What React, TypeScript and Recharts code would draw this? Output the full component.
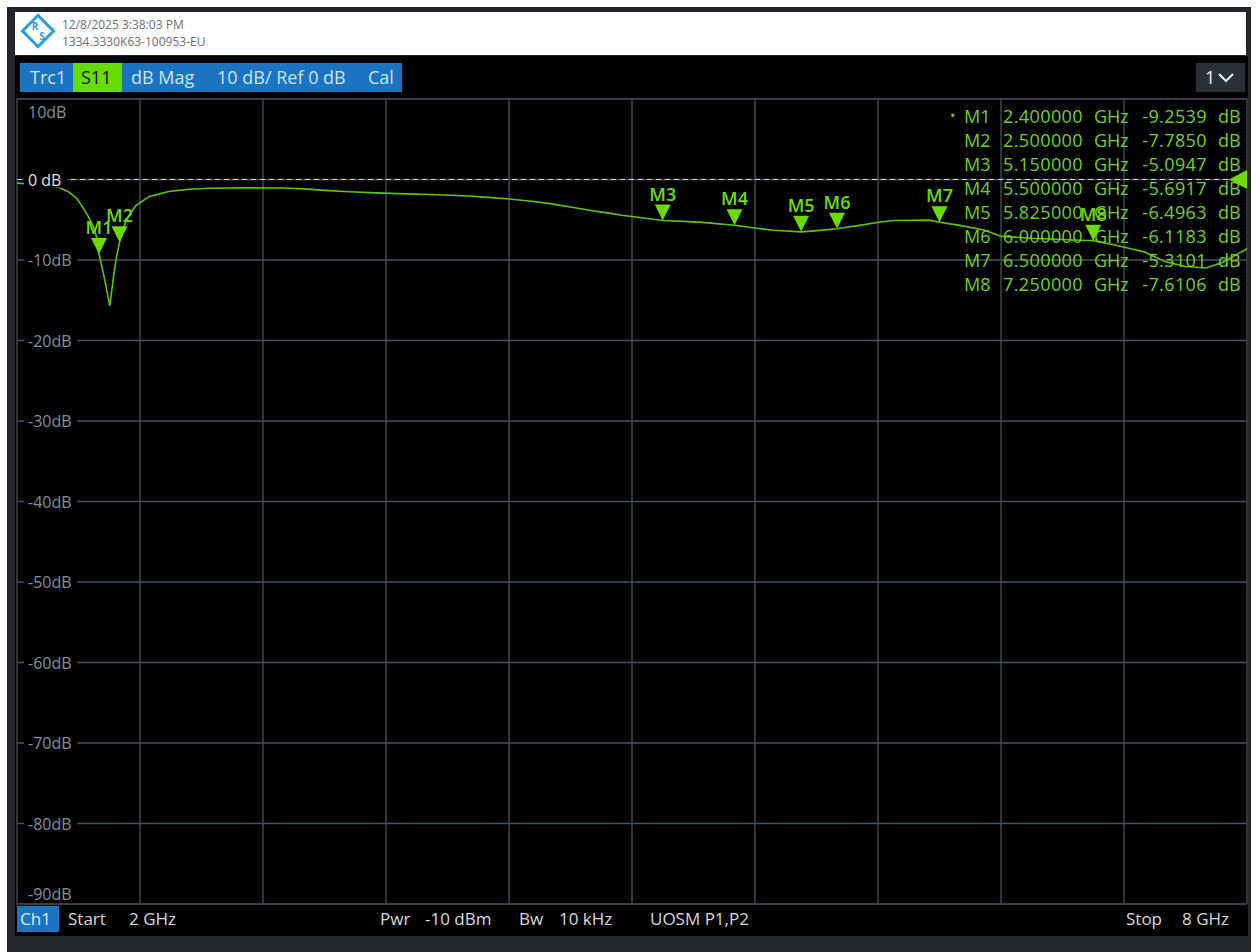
import React from 'react';
import {
  ComposedChart,
  Line,
  Scatter,
  XAxis,
  YAxis,
  CartesianGrid,
  ReferenceLine,
  ReferenceDot,
} from 'recharts';

// ---- Data ----
const traceFreqs = [
  2.0, 2.06, 2.12, 2.2, 2.25, 2.29, 2.32, 2.35, 2.375, 2.39, 2.4, 2.425, 2.453, 2.466, 2.482,
  2.5, 2.523, 2.55, 2.58, 2.645, 2.74, 2.84, 2.94, 3.1, 3.3, 3.42, 3.52, 3.62, 3.75, 3.9, 4.05,
  4.2, 4.3, 4.4, 4.5, 4.6, 4.7, 4.8, 4.88, 4.95, 5.0, 5.15, 5.33, 5.5, 5.59, 5.69, 5.825, 5.89,
  6.0, 6.11, 6.21, 6.28, 6.45, 6.5, 6.6, 6.72, 6.8, 6.95, 7.1, 7.25, 7.35, 7.5, 7.6, 7.7, 7.8,
  7.88, 7.95, 8.0,
];
const traceDb = [
  -0.45, -0.55, -0.65, -0.95, -1.5, -2.3, -3.4, -4.7, -6.0, -7.3, -9.25, -12.1, -15.7, -13.0,
  -10.1, -7.785, -5.7, -4.3, -3.25, -2.1, -1.5, -1.22, -1.08, -1.04, -1.05, -1.2, -1.38, -1.53,
  -1.66, -1.78, -1.9, -2.05, -2.22, -2.42, -2.67, -3.0, -3.42, -3.85, -4.15, -4.45, -4.6, -5.09,
  -5.3, -5.69, -6.0, -6.3, -6.5, -6.38, -6.12, -5.7, -5.28, -5.1, -5.05, -5.31, -5.7, -6.3,
  -7.05, -7.3, -7.45, -7.61, -8.1, -9.0, -10.2, -10.8, -11.0, -10.3, -9.3, -8.6,
];

const markerNames = ['M1', 'M2', 'M3', 'M4', 'M5', 'M6', 'M7', 'M8'];
const markerFreqs = [2.4, 2.5, 5.15, 5.5, 5.825, 6.0, 6.5, 7.25];
const markerValues = [-9.2539, -7.785, -5.0947, -5.6917, -6.4963, -6.1183, -5.3101, -7.6106];

const xTicks = [2, 2.6, 3.2, 3.8, 4.4, 5, 5.6, 6.2, 6.8, 7.4, 8];
const yTicks = [10, 0, -10, -20, -30, -40, -50, -60, -70, -80, -90];

const startLabel = '2 GHz';
const stopLabel = '8 GHz';

const traceData = traceFreqs.map((f, i) => ({ f, db: traceDb[i] }));
const markerData = markerFreqs.map((f, i) => ({ f, db: markerValues[i], name: markerNames[i] }));

// ---- Styles ----
const FONT = '"Open Sans", "Noto Sans", sans-serif';
const TRACE = '#5ec400';
const MARK = '#6cdc00';
const TEXTGREEN = '#70d21c';
const GRID = '#46525c';
const BLUE = '#1a74c2';

function estWidth(s: string, fs: number) {
  let w = 0;
  for (const c of s) {
    if (c === '-') w += 0.32;
    else if (c === ' ') w += 0.26;
    else if (c === 'B') w += 0.63;
    else if (c === 'd') w += 0.61;
    else w += 0.572;
  }
  return w * fs;
}

const YTick = (props: any) => {
  const { y, payload } = props;
  const v = payload.value;
  const label = v === 0 ? '0 dB' : `${v}dB`;
  const edge = v === 10 || v === -90;
  let ty = y;
  if (v === 10) ty = y + 13;
  if (v === -90) ty = y - 10;
  const color = v === 0 ? '#e4e2dc' : '#80909c';
  const w = estWidth(label, 16);
  return (
    <g>
      {!edge && <rect x={8} y={ty - 8} width={w + 10} height={16} fill="#000" />}
      <text
        x={12}
        y={ty}
        dominantBaseline="central"
        fill={color}
        fontSize={16}
        fontFamily={FONT}
      >
        {label}
      </text>
    </g>
  );
};

const MarkerShape = (props: any) => {
  const { cx, cy, payload } = props;
  if (cx == null || cy == null) return null;
  return (
    <g>
      <polygon points={`${cx - 8},${cy - 16} ${cx + 8},${cy - 16} ${cx},${cy}`} fill={MARK} />
      <text
        x={cx}
        y={cy - 20}
        textAnchor="middle"
        fill={MARK}
        fontSize={18}
        fontWeight={600}
        fontFamily={FONT}
      >
        {payload.name}
      </text>
    </g>
  );
};

const RefShape = (props: any) => {
  const { cx, cy } = props;
  if (cx == null || cy == null) return null;
  return <polygon points={`${cx - 18},${cy} ${cx},${cy - 9.5} ${cx},${cy + 9.5}`} fill={MARK} />;
};

const abs = (l: number, t: number, extra: any = {}) => ({
  position: 'absolute' as const,
  left: l,
  top: t,
  ...extra,
});

export default function App() {
  const rowTop = (i: number) => 115.8 + 24 * i - 12;
  return (
    <div
      style={{
        position: 'absolute',
        left: 0,
        top: 0,
        width: 1258,
        height: 952,
        background: '#ffffff',
        overflow: 'hidden',
        fontFamily: FONT,
      }}
    >
      {/* outer frame */}
      <div style={abs(7, 7, { width: 1244, height: 945, background: '#22262a' })} />
      {/* header */}
      <div style={abs(15, 12, { width: 1231, height: 43, background: '#ffffff' })} />
      <svg style={abs(20, 13)} width={36} height={38}>
        <g transform="translate(18,18)">
          <rect x={-11} y={-11} width={22} height={22} transform="rotate(45)" fill="none" stroke="#2b9fdc" strokeWidth={3} />
          <text x={-3} y={-1} textAnchor="middle" fontSize={10} fill="#2b9fdc" fontFamily={FONT} fontWeight={700}>R</text>
          <text x={4} y={9} textAnchor="middle" fontSize={10} fill="#2b9fdc" fontFamily={FONT} fontWeight={700}>S</text>
        </g>
      </svg>
      <div style={abs(62, 17, { fontSize: 12, color: '#707070', lineHeight: '16px', whiteSpace: 'nowrap' })}>
        12/8/2025 3:38:03 PM
      </div>
      <div style={abs(62, 34, { fontSize: 12, color: '#707070', lineHeight: '16px', whiteSpace: 'nowrap' })}>
        1334.3330K63-100953-EU
      </div>
      {/* inner black area */}
      <div style={abs(15, 56, { width: 1233, height: 880, background: '#000' })} />
      {/* tab bar */}
      <div style={abs(20, 63, { width: 382, height: 29, background: BLUE })} />
      <div style={abs(73, 63, { width: 49, height: 29, background: '#66dd00' })} />
      {[
        { t: 'Trc1', x: 30, c: '#cfe2f3' },
        { t: 'S11', x: 81, c: '#101010' },
        { t: 'dB Mag', x: 131, c: '#cfe2f3' },
        { t: '10 dB/ Ref 0 dB', x: 217, c: '#cfe2f3' },
        { t: 'Cal', x: 368, c: '#cfe2f3' },
      ].map((s) => (
        <div key={s.t} style={abs(s.x, 63, { fontSize: 18, lineHeight: '29px', color: s.c, whiteSpace: 'nowrap' })}>
          {s.t}
        </div>
      ))}
      {/* channel selector */}
      <div style={abs(1196, 63, { width: 49, height: 29, background: '#2a3138' })} />
      <div style={abs(1205, 63, { fontSize: 18, lineHeight: '29px', color: '#e8eef4' })}>1</div>
      <svg style={abs(1216, 70)} width={24} height={16}>
        <polyline points="3,4 10,11 17,4" fill="none" stroke="#e8eef4" strokeWidth={2.2} />
      </svg>

      {/* chart */}
      <div style={abs(16, 98, { width: 1232, height: 807 })}>
        <ComposedChart
          width={1232}
          height={807}
          data={traceData}
          margin={{ top: 1, right: 1, bottom: 1, left: 1 }}
        >
          <CartesianGrid stroke={GRID} strokeWidth={1.3} />
          <ReferenceLine y={0} stroke="#d8d8d8" strokeDasharray="5 4" strokeWidth={1.2} />
          <XAxis
            dataKey="f"
            type="number"
            domain={[2, 8]}
            ticks={xTicks}
            hide
            allowDataOverflow
          />
          <YAxis
            type="number"
            domain={[-90, 10]}
            ticks={yTicks}
            interval={0}
            mirror
            axisLine={false}
            tickLine={false}
            tick={<YTick />}
            allowDataOverflow
          />
          <Line
            dataKey="db"
            type="linear"
            stroke={TRACE}
            strokeWidth={1.6}
            dot={false}
            activeDot={false}
            isAnimationActive={false}
          />
          <Scatter
            data={markerData}
            dataKey="db"
            shape={<MarkerShape />}
            isAnimationActive={false}
          />
          <ReferenceDot x={8} y={0} r={0} shape={<RefShape />} ifOverflow="visible" />
        </ComposedChart>
      </div>

      {/* marker table */}
      {markerNames.map((n, i) => (
        <React.Fragment key={n}>
          {i === 0 && (
            <div style={abs(950, rowTop(i), { fontSize: 14, lineHeight: '24px', color: TEXTGREEN })}>•</div>
          )}
          <div style={abs(964, rowTop(i), { fontSize: 18, lineHeight: '24px', color: TEXTGREEN })}>{n}</div>
          <div style={abs(1003, rowTop(i), { fontSize: 18, lineHeight: '24px', color: TEXTGREEN, letterSpacing: 0.4 })}>
            {markerFreqs[i].toFixed(6)}
          </div>
          <div style={abs(1094, rowTop(i), { fontSize: 18, lineHeight: '24px', color: TEXTGREEN })}>GHz</div>
          <div
            style={abs(1107, rowTop(i), {
              width: 100,
              textAlign: 'right',
              fontSize: 18,
              lineHeight: '24px',
              color: TEXTGREEN,
              letterSpacing: 0.4,
            })}
          >
            {markerValues[i].toFixed(4)}
          </div>
          <div style={abs(1218, rowTop(i), { fontSize: 18, lineHeight: '24px', color: TEXTGREEN })}>dB</div>
        </React.Fragment>
      ))}

      {/* bottom bar */}
      <div style={abs(17, 906, { width: 42, height: 26, background: BLUE })} />
      {[
        { t: 'Ch1', x: 20, c: '#d9e8f5' },
        { t: 'Start', x: 68, c: '#d8d8d8' },
        { t: startLabel, x: 129, c: '#d8d8d8' },
        { t: 'Pwr', x: 380, c: '#d8d8d8' },
        { t: '-10 dBm', x: 425, c: '#d8d8d8' },
        { t: 'Bw', x: 519, c: '#d8d8d8' },
        { t: '10 kHz', x: 559, c: '#d8d8d8' },
        { t: 'UOSM P1,P2', x: 650, c: '#d8d8d8' },
        { t: 'Stop', x: 1126, c: '#d8d8d8' },
        { t: stopLabel, x: 1182, c: '#d8d8d8' },
      ].map((s) => (
        <div key={s.t} style={abs(s.x, 906, { fontSize: 17, lineHeight: '26px', color: s.c, whiteSpace: 'nowrap' })}>
          {s.t}
        </div>
      ))}
    </div>
  );
}
